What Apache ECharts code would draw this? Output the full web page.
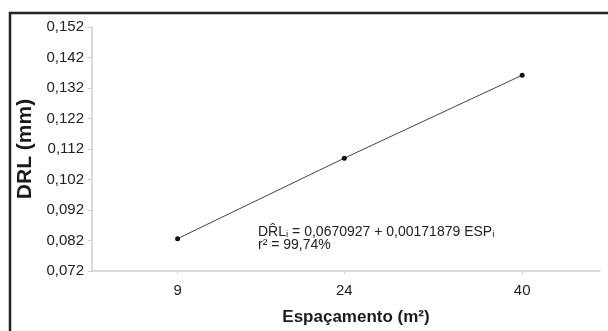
<!DOCTYPE html>
<html>
<head>
<meta charset="utf-8">
<script src="https://cdn.jsdelivr.net/npm/echarts@6/dist/echarts.min.js"></script>
<style>html,body{margin:0;padding:0;background:#fff;}#c{width:608px;height:331px;}</style>
</head>
<body>
<div id="c"></div>
<script>
var spacing = [9, 24, 40];
var drl = [0.0826, 0.1090, 0.1362];
var xTicks = [9, 24, 40];
var yMin = 0.072, yMax = 0.152, yStep = 0.01;
var xTitle = 'Espaçamento (m²)';
var yTitle = 'DRL (mm)';
var eqLine1 = 'DR\u0302L\u1d62 = 0,0670927 + 0,00171879 ESP\u1d62';
var eqLine2 = 'r\u00b2 = 99,74%';

var chart = echarts.init(document.getElementById('c'), null, {renderer: 'canvas'});
var font = 'Liberation Sans, Arial, sans-serif';
var pts = spacing.map(function (x, i) { return [x, drl[i]]; });
chart.setOption({
  animation: false,
  backgroundColor: '#fff',
  grid: {left: 92, right: 8, top: 27, bottom: 55},
  xAxis: {
    type: 'value', min: 1.3, max: 47.0,
    splitLine: {show: false},
    axisLine: {lineStyle: {color: '#cfcfcf', width: 1.5}},
    axisTick: {show: true, customValues: xTicks, length: 3, lineStyle: {color: '#cfcfcf'}},
    axisLabel: {customValues: xTicks, color: '#222', fontSize: 15, fontFamily: font, margin: 12},
    name: xTitle, nameLocation: 'middle', nameGap: 38,
    nameTextStyle: {fontSize: 17, fontWeight: 'bold', color: '#1a1a1a', fontFamily: font, padding: [0, 0, 0, 20]}
  },
  yAxis: {
    type: 'value', min: yMin, max: yMax, interval: yStep,
    splitLine: {show: false},
    axisLine: {show: true, lineStyle: {color: '#cfcfcf', width: 1.5}},
    axisTick: {show: true, length: 4, lineStyle: {color: '#cfcfcf'}},
    axisLabel: {color: '#222', fontSize: 15, fontFamily: font, margin: 8,
      formatter: function (v) { return v.toFixed(3).replace('.', ','); }},
    name: yTitle, nameLocation: 'middle', nameGap: 56, nameRotate: 90,
    nameTextStyle: {fontSize: 21, fontWeight: 'bold', color: '#1a1a1a', fontFamily: font}
  },
  series: [{
    type: 'line', data: pts,
    lineStyle: {color: '#444', width: 1},
    symbol: 'circle', symbolSize: 5,
    itemStyle: {color: '#111'}
  }],
  graphic: [
    {type: 'rect', shape: {x: 10, y: 13, width: 700, height: 400},
     style: {fill: 'none', stroke: '#222', lineWidth: 2.5}, silent: true},
    {type: 'text', left: 258, top: 225,
     style: {text: eqLine1 + '\n' + eqLine2, fill: '#222', font: '14px ' + font, lineHeight: 13}}
  ]
});
</script>
</body>
</html>
